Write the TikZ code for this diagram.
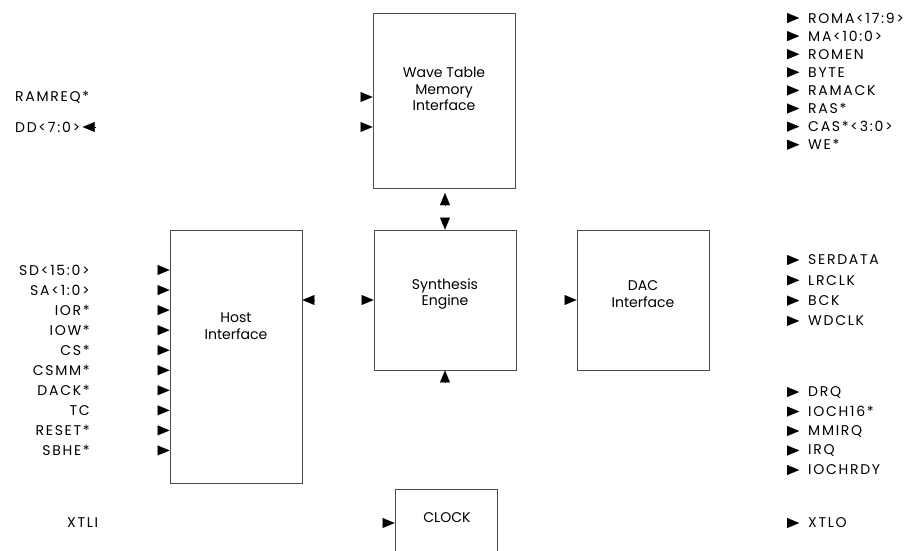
\documentclass[tikz,border=0pt]{standalone}
\usepackage{fontspec}
\setmainfont{Poppins}
\newfontfamily\sigfont[LetterSpace=12]{Poppins}
\usetikzlibrary{arrows.meta,positioning}
\tikzset{
    block/.style={draw=black!70,line width=0.7pt,inner sep=0pt},
    blocktext/.style={align=center,font=\fontsize{12}{14}\selectfont},
    sig/.style={inner sep=0pt,font=\sigfont\fontsize{12}{13}\selectfont},
    head/.style={-{Triangle[length=10.3pt,width=8.5pt]},line width=0.1pt,black},
}
\begin{document}
\begin{tikzpicture}[x=0.03cm,y=-0.03cm]
    \clip (0,0) rectangle (917,550);

    % blocks
    \node [block,minimum width=4.26cm,minimum height=5.25cm] (wave) at (444,100.5) {};
    \node [block,minimum width=3.96cm,minimum height=7.59cm] (host) at (236,356.5) {};
    \node [block,minimum width=4.26cm,minimum height=4.2cm] (synth) at (445,300) {};
    \node [block,minimum width=3.96cm,minimum height=4.2cm] (dac) at (643,300) {};
    \node [block,minimum width=3.06cm,minimum height=2.4cm] (clock) at (446,529) {};

    \node [blocktext] (wavetxt) at (444,89) {Wave Table\\Memory\\Interface};
    \node [blocktext] (hosttxt) at (236,326) {Host\\Interface};
    \node [blocktext] (synthtxt) at (445,294) {Synthesis\\Engine};
    \node [blocktext] (dactxt) at (643,294) {DAC\\Interface};
    \node [blocktext] (clocktxt) at (447,518) {CLOCK};

    % between blocks
    \draw [head] (445,205) -- (445,193);
    \draw [head] (445,218) -- (synth.north);
    \draw [head] (314,300) -- (host.east |- 0,300);
    \draw [head] (362,300) -- (synth.west);
    \draw [head] (565,300) -- (dac.west);
    \draw [head] (445,382) -- (synth.south);

    % wave table side
    \node [sig,anchor=west] (ramreq) at (15,97) {RAMREQ*};
    \node [sig,anchor=west] (dd) at (15,127) {DD<7:0>};
    \draw [head] ([xshift=12.3pt]dd.east) -- ([xshift=2pt]dd.east);
    \draw [head] (361,97) -- (wave.west |- 0,97);
    \draw [head] (361,127) -- (wave.west |- 0,127);

    % host side
    \foreach \t [count=\i from 0] in {SD<15:0>,SA<1:0>,IOR*,IOW*,CS*,CSMM*,DACK*,TC,RESET*,SBHE*}{
        \node [sig,anchor=east] (h\i) at (90,{270+20.05*\i}) {\t};
        \draw [head] (158,{270+20.05*\i}) -- (host.west |- 0,{270+20.05*\i});
    }

    % clock
    \node [sig,anchor=west] (xtli) at (67,523) {XTLI};
    \draw [head] (383,523) -- (clock.west |- 0,523);

    % outputs
    \foreach \t [count=\i from 0] in {ROMA<17:9>,MA<10:0>,ROMEN,BYTE,RAMACK,RAS*,CAS*<3:0>,WE*}{
        \node [sig,anchor=west] (m\i) at (808,{18+18.1*\i}) {\t};
        \draw [head] ([xshift=-17.8pt]m\i.west) -- ([xshift=-7.5pt]m\i.west);
    }
    \foreach \t [count=\i from 0] in {SERDATA,LRCLK,BCK,WDCLK}{
        \node [sig,anchor=west] (d\i) at (808,{260+20.3*\i}) {\t};
        \draw [head] ([xshift=-17.8pt]d\i.west) -- ([xshift=-7.5pt]d\i.west);
    }
    \foreach \t [count=\i from 0] in {DRQ,IOCH16*,MMIRQ,IRQ,IOCHRDY}{
        \node [sig,anchor=west] (q\i) at (808,{392+19.5*\i}) {\t};
        \draw [head] ([xshift=-17.8pt]q\i.west) -- ([xshift=-7.5pt]q\i.west);
    }
    \node [sig,anchor=west] (xtlo) at (808,523) {XTLO};
    \draw [head] ([xshift=-17.8pt]xtlo.west) -- ([xshift=-7.5pt]xtlo.west);
\end{tikzpicture}
\end{document}
